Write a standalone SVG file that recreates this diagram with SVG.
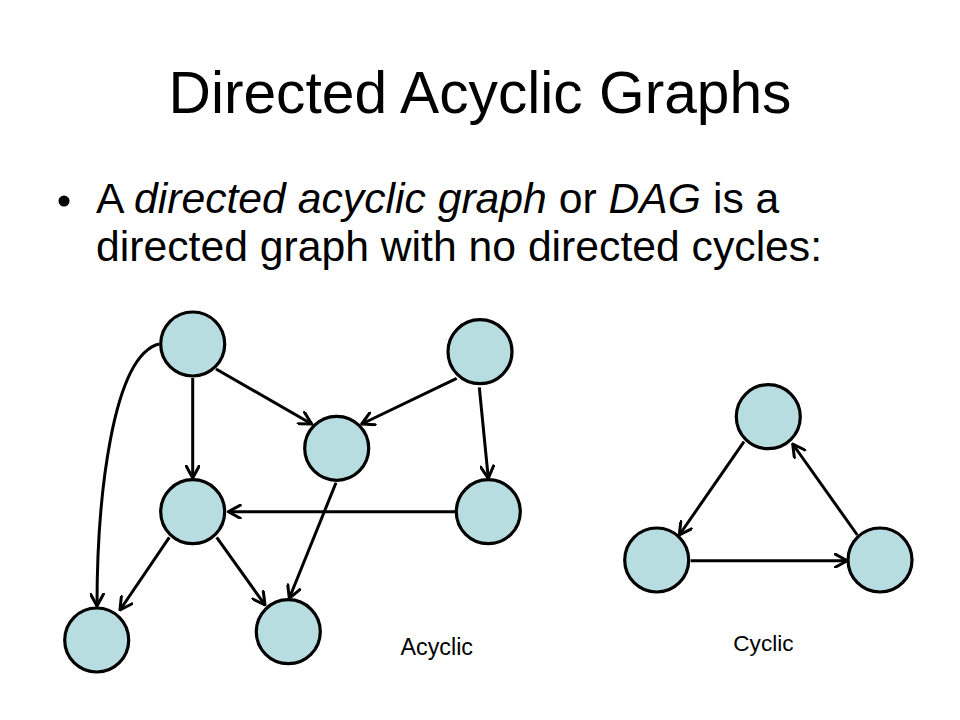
<svg xmlns="http://www.w3.org/2000/svg" width="960" height="720" viewBox="0 0 960 720">
<style>
.node{fill:#B8DDE1;stroke:#000;stroke-width:3.2}
.edge{fill:none;stroke:#000;stroke-width:3}
.t{font-family:"Liberation Sans",Arial,sans-serif;fill:#000}
</style>
<defs>
<marker id="arr" viewBox="0 0 15 15" refX="13.5" refY="7.5" markerWidth="15" markerHeight="15" markerUnits="userSpaceOnUse" orient="auto">
<path d="M1.5,1 L13.5,7.5 L1.5,14" fill="none" stroke="#000" stroke-width="3" stroke-linecap="round" stroke-linejoin="round"/>
</marker>
</defs>
<rect width="960" height="720" fill="#fff"/>
<text class="t" x="480" y="113" font-size="58.7" text-anchor="middle">Directed Acyclic Graphs</text>
<g id="bullet">
<circle cx="64" cy="201" r="5.5" fill="#000"/>
<text class="t" x="96" y="213" font-size="42.7">A <tspan font-style="italic">directed acyclic graph</tspan> or <tspan font-style="italic">DAG</tspan> is a</text>
<text class="t" x="96" y="261" font-size="42.7">directed graph with no directed cycles:</text>
</g>
<g id="connectors">
<path class="edge" d="M159,344 C112,356 97,500 97,606" marker-end="url(#arr)"/>
<line class="edge" x1="192.7" y1="378" x2="192.7" y2="478" marker-end="url(#arr)"/>
<line class="edge" x1="216" y1="369" x2="311.7" y2="424" marker-end="url(#arr)"/>
<line class="edge" x1="456.7" y1="378.3" x2="361.7" y2="424" marker-end="url(#arr)"/>
<line class="edge" x1="479.3" y1="387.3" x2="488.3" y2="478.3" marker-end="url(#arr)"/>
<line class="edge" x1="456" y1="511.7" x2="228.3" y2="511.7" marker-end="url(#arr)"/>
<line class="edge" x1="169.3" y1="537.3" x2="120" y2="610" marker-end="url(#arr)"/>
<line class="edge" x1="216.7" y1="537.3" x2="265" y2="605" marker-end="url(#arr)"/>
<line class="edge" x1="336" y1="482.7" x2="289.3" y2="598.3" marker-end="url(#arr)"/>
<line class="edge" x1="744" y1="441.7" x2="679.3" y2="535" marker-end="url(#arr)"/>
<line class="edge" x1="690.7" y1="560.7" x2="847.3" y2="560.7" marker-end="url(#arr)"/>
<line class="edge" x1="857.3" y1="535" x2="792.7" y2="444" marker-end="url(#arr)"/>
</g>
<g id="a1"><circle class="node" cx="192.7" cy="344" r="32"/></g>
<g id="a2"><circle class="node" cx="480" cy="351.7" r="32"/></g>
<g id="a3"><circle class="node" cx="336.7" cy="448.3" r="32"/></g>
<g id="a4"><circle class="node" cx="192.7" cy="511.7" r="32"/></g>
<g id="a5"><circle class="node" cx="488.3" cy="511.7" r="32"/></g>
<g id="a6"><circle class="node" cx="96.7" cy="640" r="32"/></g>
<g id="a7"><circle class="node" cx="288.3" cy="631.7" r="32"/></g>
<g id="c1"><circle class="node" cx="768.3" cy="416.7" r="32"/></g>
<g id="c2"><circle class="node" cx="656.7" cy="560" r="32"/></g>
<g id="c3"><circle class="node" cx="880" cy="560" r="32"/></g>
<text class="t" x="400.5" y="655" font-size="23.3">Acyclic</text>
<text class="t" x="733.3" y="651" font-size="22.6">Cyclic</text>
</svg>
